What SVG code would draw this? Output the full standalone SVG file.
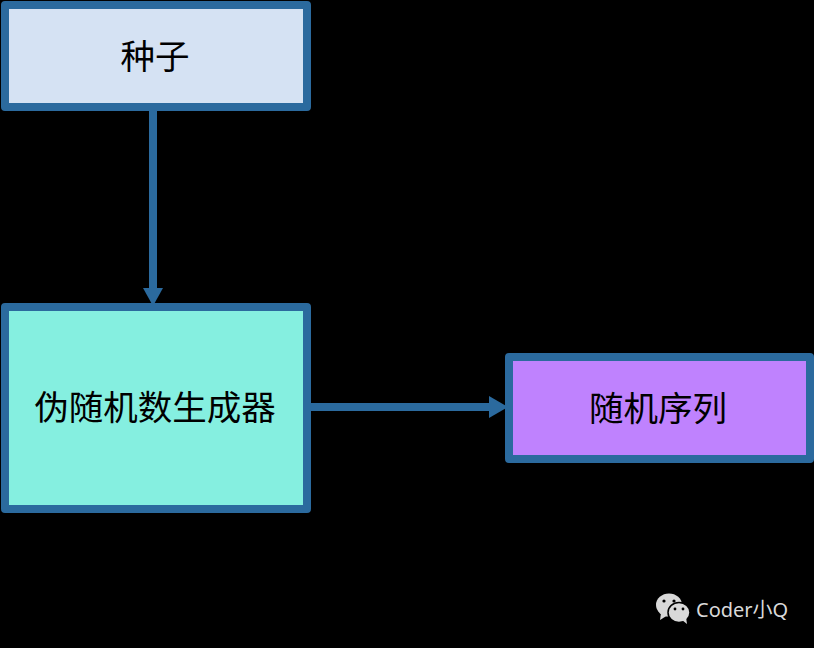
<svg xmlns="http://www.w3.org/2000/svg" width="814" height="648" viewBox="0 0 814 648">
  <style>
    .box { stroke: #2b6a9e; stroke-width: 8; stroke-linejoin: round; }
    .label { font-family: "Noto Sans CJK SC", "Liberation Serif", serif; font-size: 34.5px; fill: #000; text-anchor: middle; }
    .link { stroke: #2b6a9e; stroke-width: 8; fill: none; }
    .head { fill: #2b6a9e; }
    .mark { font-family: "Noto Sans", "Noto Sans CJK SC", sans-serif; font-size: 20px; fill: #d9d9d9; }
    .bubble { fill: #d9d9d9; }
    .bubble-edge { stroke: #000; stroke-width: 1.5; }
    .eye { fill: #000; }
  </style>
  <rect width="814" height="648" fill="#000"/>
  <g id="connectors">
    <path class="link" d="M153 107V292"/>
    <polygon class="head" points="143,288 163,288 153,306"/>
    <path class="link" d="M307 407H492"/>
    <polygon class="head" points="489,396 489,418 508,407"/>
  </g>
  <g id="seed">
    <rect class="box" x="5" y="5" width="302" height="102" fill="#d5e2f3"/>
    <text class="label" x="155" y="69">种子</text>
  </g>
  <g id="generator">
    <rect class="box" x="5" y="307" width="302" height="202" fill="#85efe0"/>
    <text class="label" x="155" y="420">伪随机数生成器</text>
  </g>
  <g id="sequence">
    <rect class="box" x="509" y="357" width="301" height="102" fill="#bf82fe"/>
    <text class="label" x="658" y="421">随机序列</text>
  </g>
  <g id="watermark">
    <ellipse class="bubble" cx="669" cy="605" rx="13" ry="11.5"/>
    <polygon class="bubble" points="661,613 660,620 668,615"/>
    <circle class="eye" cx="664" cy="601" r="1.6"/>
    <circle class="eye" cx="674" cy="601" r="1.6"/>
    <ellipse class="bubble bubble-edge" cx="679" cy="612.5" rx="11" ry="10"/>
    <polygon class="bubble" points="682,620 687,624 686,617"/>
    <circle class="eye" cx="675" cy="609" r="1.4"/>
    <circle class="eye" cx="683" cy="609" r="1.4"/>
    <text class="mark" x="696" y="617">Coder小Q</text>
  </g>
</svg>
